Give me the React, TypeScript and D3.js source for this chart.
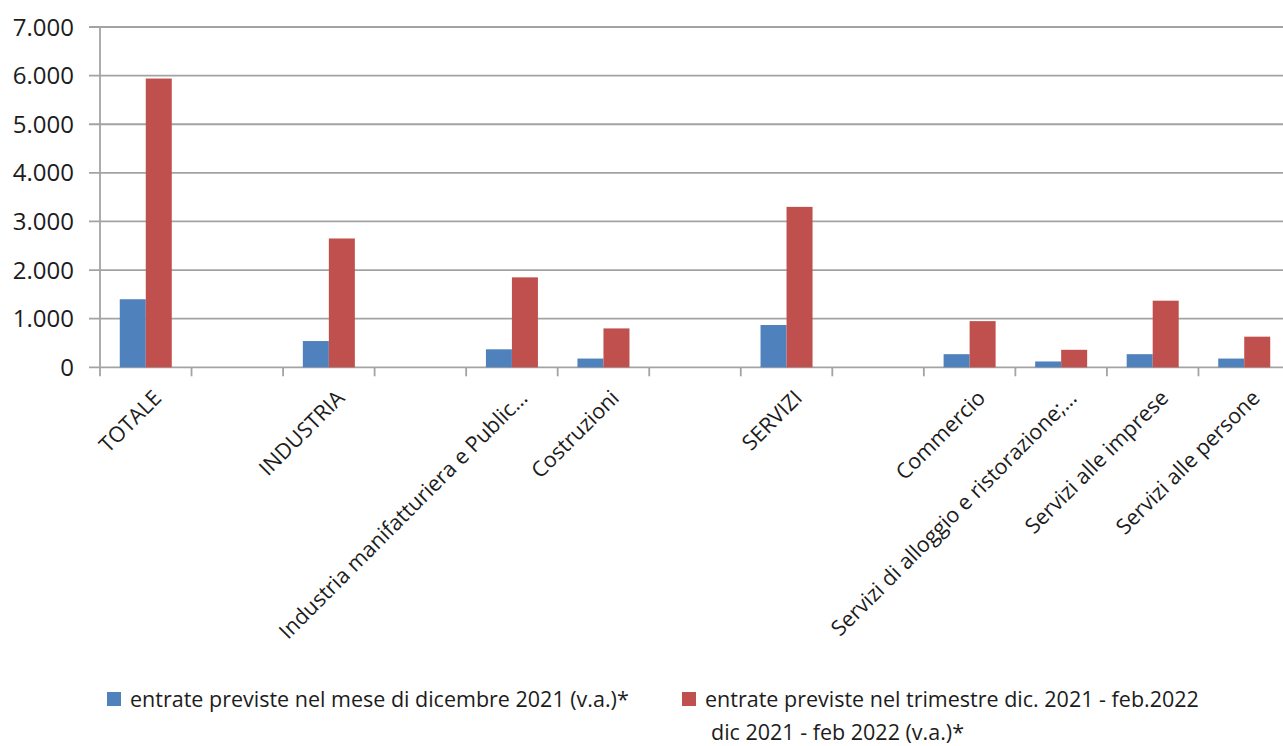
import * as d3 from "d3";
import React, { useEffect, useRef } from "react";

const width = 1283;
const height = 746;

// category slots (empty strings are the gaps in the original chart)
const categories = [
  "TOTALE",
  "",
  "INDUSTRIA",
  "",
  "Industria manifatturiera e Public…",
  "Costruzioni",
  "",
  "SERVIZI",
  "",
  "Commercio",
  "Servizi di alloggio e ristorazione;…",
  "Servizi alle imprese",
  "Servizi alle persone",
];
const dicembre = [1400, null, 540, null, 370, 180, null, 870, null, 270, 120, 270, 180];
const trimestre = [5940, null, 2650, null, 1850, 800, null, 3300, null, 950, 360, 1370, 630];
const yTicks = [0, 1000, 2000, 3000, 4000, 5000, 6000, 7000];
const seriesNames = [
  "entrate previste nel mese di dicembre 2021 (v.a.)*",
  "entrate previste nel trimestre dic. 2021 - feb.2022",
];
const seriesNote = "dic 2021 - feb 2022 (v.a.)*";
const colors = ["#4F81BD", "#C0504D"];

const font = "'Open Sans', sans-serif";

export default function App() {
  const holderRef = useRef<HTMLDivElement | null>(null);

  useEffect(() => {
    const holder = holderRef.current;
    if (!holder || holder.hasChildNodes()) return;
    document.body.style.margin = "0";

    const margin = { top: 27, left: 100, right: 1290, bottom: 367.3 };

    const x = d3
      .scaleBand<number>()
      .domain(d3.range(categories.length))
      .range([margin.left, margin.right]);

    const xSub = d3
      .scaleBand<number>()
      .domain([0, 1])
      .range([0, x.bandwidth()])
      .paddingInner(0)
      .paddingOuter(0.76);

    const y = d3.scaleLinear().domain([0, 7000]).range([margin.bottom, margin.top]);

    const svg = d3
      .select(holder)
      .append("svg")
      .attr("width", width)
      .attr("height", height)
      .style("display", "block")
      .style("font-family", font);

    const grey = "#A3A3A3";

    // horizontal grid + y ticks
    svg
      .append("g")
      .selectAll("line")
      .data(yTicks)
      .join("line")
      .attr("x1", margin.left - 11)
      .attr("x2", width)
      .attr("y1", (d) => y(d))
      .attr("y2", (d) => y(d))
      .attr("stroke", grey)
      .attr("stroke-width", 1.8);

    // y axis line
    svg
      .append("line")
      .attr("x1", margin.left)
      .attr("x2", margin.left)
      .attr("y1", y(7000))
      .attr("y2", margin.bottom + 9)
      .attr("stroke", grey)
      .attr("stroke-width", 1.8);

    // x ticks at band boundaries
    svg
      .append("g")
      .selectAll("line")
      .data(d3.range(1, categories.length))
      .join("line")
      .attr("x1", (d) => x(d)!)
      .attr("x2", (d) => x(d)!)
      .attr("y1", margin.bottom)
      .attr("y2", margin.bottom + 9)
      .attr("stroke", grey)
      .attr("stroke-width", 1.8);

    // y tick labels
    svg
      .append("g")
      .selectAll("text")
      .data(yTicks)
      .join("text")
      .attr("x", 74)
      .attr("y", (d) => y(d))
      .attr("dy", "0.36em")
      .attr("text-anchor", "end")
      .attr("font-size", 24)
      .attr("fill", "#1c1c1c")
      .text((d) => d3.format(",")(d).replace(/,/g, "."));

    // bars
    [dicembre, trimestre].forEach((values, s) => {
      svg
        .append("g")
        .selectAll("rect")
        .data(values.map((v, i) => ({ v, i })).filter((d) => d.v != null))
        .join("rect")
        .attr("x", (d) => x(d.i)! + xSub(s)!)
        .attr("width", xSub.bandwidth())
        .attr("y", (d) => y(d.v as number))
        .attr("height", (d) => y(0) - y(d.v as number))
        .attr("fill", colors[s]);
    });

    // category labels, rotated
    svg
      .append("g")
      .selectAll("text")
      .data(categories.map((c, i) => ({ c, i })).filter((d) => d.c !== ""))
      .join("text")
      .attr(
        "transform",
        (d) => `translate(${x(d.i)! + x.bandwidth() / 2 + 17},${margin.bottom + 32}) rotate(-45)`
      )
      .attr("text-anchor", "end")
      .attr("font-size", 21.5)
      .attr("fill", "#1c1c1c")
      .text((d) => d.c);

    // legend
    const legend = [
      { x: 107, label: seriesNames[0] },
      { x: 682, label: seriesNames[1] },
    ];
    const lg = svg.append("g");
    legend.forEach((l, i) => {
      lg.append("rect")
        .attr("x", l.x)
        .attr("y", 692)
        .attr("width", 14)
        .attr("height", 14)
        .attr("fill", colors[i]);
      lg.append("text")
        .attr("x", l.x + 23)
        .attr("y", 707)
        .attr("font-size", 21.5)
        .attr("fill", "#1c1c1c")
        .text(l.label);
    });
    lg.append("text")
      .attr("x", 711)
      .attr("y", 740)
      .attr("font-size", 21.5)
      .attr("fill", "#1c1c1c")
      .text(seriesNote);
  }, []);

  return <div ref={holderRef} />;
}
